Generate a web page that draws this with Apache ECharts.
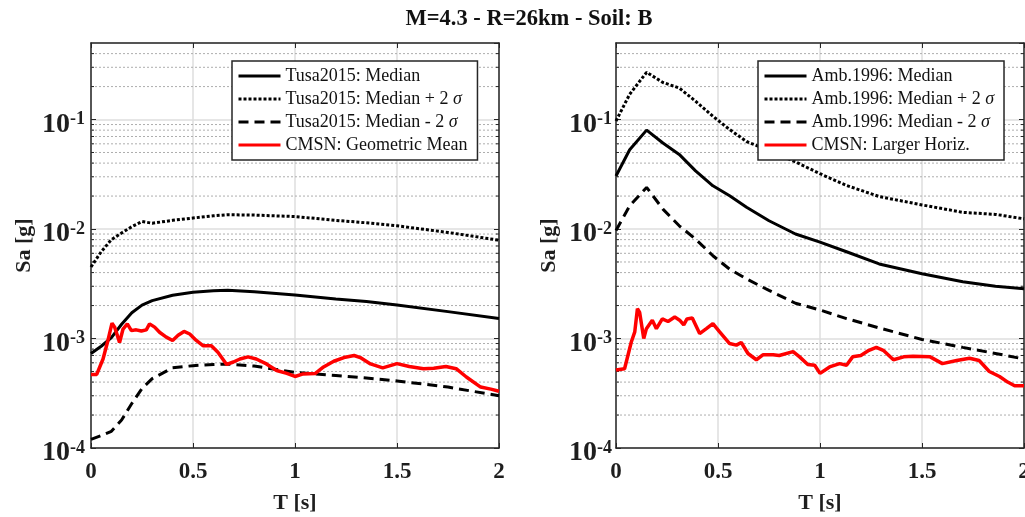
<!DOCTYPE html>
<html>
<head>
<meta charset="utf-8">
<script src="https://cdn.jsdelivr.net/npm/echarts@6/dist/echarts.min.js"></script>
<style>
  html, body { margin: 0; padding: 0; background: #fff; }
  #chart { width: 1025px; height: 517px; }
</style>
</head>
<body>
<div id="chart"></div>
<script>
// ---- Response spectra: M=4.3, R=26 km, soil B ----

// Periods for the model curves (s)
const periodsTusa = [0, 0.05, 0.1, 0.15, 0.2, 0.25, 0.3, 0.4, 0.5, 0.6, 0.67, 0.8, 1.0, 1.2, 1.35, 1.5, 1.75, 2.0];
const tusaMedian  = [7.3e-4, 8.5e-4, 1.02e-3, 1.35e-3, 1.72e-3, 2.02e-3, 2.22e-3, 2.48e-3, 2.64e-3, 2.73e-3, 2.76e-3, 2.68e-3, 2.5e-3, 2.3e-3, 2.18e-3, 2.02e-3, 1.76e-3, 1.52e-3];
const tusaPlus2s  = [4.5e-3, 6.2e-3, 8.0e-3, 9.2e-3, 1.05e-2, 1.17e-2, 1.13e-2, 1.2e-2, 1.26e-2, 1.32e-2, 1.35e-2, 1.34e-2, 1.3e-2, 1.2e-2, 1.14e-2, 1.07e-2, 9.3e-3, 7.9e-3];
const tusaMinus2s = [1.2e-4, 1.3e-4, 1.42e-4, 1.8e-4, 2.55e-4, 3.5e-4, 4.3e-4, 5.4e-4, 5.65e-4, 5.8e-4, 5.85e-4, 5.6e-4, 4.9e-4, 4.6e-4, 4.35e-4, 4.1e-4, 3.6e-4, 3.0e-4];

const periodsAmb = [0, 0.067, 0.15, 0.23, 0.31, 0.39, 0.475, 0.557, 0.64, 0.75, 0.88, 1.0, 1.13, 1.29, 1.5, 1.7, 1.86, 2.0];
const ambMedian  = [0.0305, 0.053, 0.080, 0.061, 0.048, 0.034, 0.0248, 0.0201, 0.0158, 0.0119, 0.0090, 0.0076, 0.0062, 0.0048, 0.0039, 0.0033, 0.0030, 0.00285];
const ambPlus2s  = [0.097, 0.17, 0.27, 0.218, 0.194, 0.147, 0.107, 0.081, 0.063, 0.052, 0.041, 0.032, 0.025, 0.0198, 0.0166, 0.0142, 0.0136, 0.0124];
const ambMinus2s = [0.0097, 0.0163, 0.024, 0.0152, 0.0107, 0.0081, 0.0057, 0.0043, 0.0035, 0.00275, 0.0021, 0.00182, 0.00152, 0.00125, 0.00098, 0.00083, 0.00073, 0.00065];

// Recorded spectrum, geometric mean of horizontals
const periodsGeo = [0, 0.028, 0.059, 0.083, 0.103, 0.116, 0.14, 0.157, 0.178, 0.198, 0.222, 0.247, 0.271, 0.287, 0.312, 0.336, 0.369, 0.40, 0.427, 0.456, 0.484, 0.516, 0.549, 0.59, 0.622, 0.665, 0.698, 0.73, 0.77, 0.81, 0.86, 0.91, 0.96, 1.0, 1.04, 1.1, 1.14, 1.19, 1.24, 1.29, 1.32, 1.37, 1.43, 1.5, 1.56, 1.63, 1.68, 1.74, 1.79, 1.84, 1.91, 1.96, 2.0];
const cmsnGeoMean = [4.7e-4, 4.7e-4, 6.5e-4, 9.6e-4, 1.38e-3, 1.27e-3, 9.2e-4, 1.22e-3, 1.36e-3, 1.18e-3, 1.2e-3, 1.17e-3, 1.2e-3, 1.36e-3, 1.27e-3, 1.14e-3, 1.03e-3, 9.6e-4, 1.07e-3, 1.16e-3, 1.1e-3, 9.6e-4, 8.6e-4, 8.6e-4, 7.5e-4, 5.8e-4, 6.1e-4, 6.5e-4, 6.8e-4, 6.5e-4, 5.86e-4, 5.1e-4, 4.8e-4, 4.5e-4, 4.75e-4, 4.8e-4, 5.5e-4, 6.2e-4, 6.7e-4, 7.0e-4, 6.7e-4, 5.86e-4, 5.4e-4, 5.9e-4, 5.55e-4, 5.3e-4, 5.35e-4, 5.55e-4, 5.3e-4, 4.45e-4, 3.6e-4, 3.45e-4, 3.3e-4];

// Recorded spectrum, larger horizontal component
const periodsHor = [0, 0.042, 0.075, 0.092, 0.105, 0.116, 0.136, 0.149, 0.178, 0.198, 0.227, 0.255, 0.288, 0.312, 0.332, 0.348, 0.374, 0.41, 0.443, 0.475, 0.508, 0.557, 0.59, 0.614, 0.647, 0.688, 0.72, 0.77, 0.80, 0.868, 0.9, 0.94, 0.974, 1.0, 1.047, 1.096, 1.13, 1.16, 1.2, 1.24, 1.276, 1.31, 1.36, 1.41, 1.456, 1.54, 1.60, 1.67, 1.733, 1.78, 1.83, 1.88, 1.92, 1.954, 2.0];
const cmsnLargerHor = [5.15e-4, 5.3e-4, 9.3e-4, 1.15e-3, 1.87e-3, 1.73e-3, 1.0e-3, 1.23e-3, 1.47e-3, 1.23e-3, 1.51e-3, 1.43e-3, 1.57e-3, 1.47e-3, 1.33e-3, 1.51e-3, 1.54e-3, 1.11e-3, 1.23e-3, 1.37e-3, 1.15e-3, 9.0e-4, 8.7e-4, 9.2e-4, 7.3e-4, 6.4e-4, 7.1e-4, 7.1e-4, 7.0e-4, 7.6e-4, 6.8e-4, 5.8e-4, 5.7e-4, 4.8e-4, 5.5e-4, 5.9e-4, 5.7e-4, 6.8e-4, 7.0e-4, 7.8e-4, 8.3e-4, 7.8e-4, 6.4e-4, 6.8e-4, 6.9e-4, 6.8e-4, 5.9e-4, 6.3e-4, 6.6e-4, 6.3e-4, 5.0e-4, 4.5e-4, 4.0e-4, 3.7e-4, 3.7e-4];

// Axis settings
const periodRange = [0, 2];
const periodStep = 0.5;
const saRange = [1e-4, 0.5];
// Minor log gridlines (2..9 per decade)
const minorSa = [2e-4,3e-4,4e-4,5e-4,6e-4,7e-4,8e-4,9e-4, 2e-3,3e-3,4e-3,5e-3,6e-3,7e-3,8e-3,9e-3, 2e-2,3e-2,4e-2,5e-2,6e-2,7e-2,8e-2,9e-2, 0.2,0.3,0.4];

const titleText = 'M=4.3 - R=26km - Soil: B';
const xName = 'T [s]';
const yName = 'Sa [g]';
const namesLeft  = ['Tusa2015: Median', 'Tusa2015: Median + 2 σ', 'Tusa2015: Median - 2 σ', 'CMSN: Geometric Mean'];
const namesRight = ['Amb.1996: Median', 'Amb.1996: Median + 2 σ', 'Amb.1996: Median - 2 σ', 'CMSN: Larger Horiz.'];

const FONT = '"Liberation Serif", "Times New Roman", serif';
const AXIS_COLOR = '#262626';
const TEXT_COLOR = '#1e1e1e';

const zip = (xs, ys) => xs.map((x, i) => [x, ys[i]]);

const chart = echarts.init(document.getElementById('chart'), null, { renderer: 'canvas' });

// Fixed plot rectangles; labels may run to the canvas edge
const grids = [
  { left: 91, top: 43, width: 408, height: 405, outerBoundsMode: 'none', containLabel: false },
  { left: 616, top: 43, width: 408, height: 405, outerBoundsMode: 'none', containLabel: false }
];

function xAxes(gi) {
  const base = {
    type: 'value', gridIndex: gi, min: periodRange[0], max: periodRange[1], interval: periodStep,
    axisLine: { show: true, onZero: false, lineStyle: { color: AXIS_COLOR, width: 1.5 } },
    axisTick: { show: true, inside: true, length: 5, lineStyle: { color: AXIS_COLOR, width: 1 } }
  };
  return [
    Object.assign({}, base, {
      position: 'bottom',
      name: xName, nameLocation: 'middle', nameGap: 44,
      nameTextStyle: { fontFamily: FONT, fontSize: 22, fontWeight: 'bold', color: TEXT_COLOR },
      axisLabel: { fontFamily: FONT, fontSize: 23, fontWeight: 'bold', color: TEXT_COLOR, margin: 13, hideOverlap: false },
      splitLine: { show: true, lineStyle: { color: '#dedede', width: 1.5 } }
    }),
    Object.assign({}, base, {
      position: 'top',
      axisLabel: { show: false },
      splitLine: { show: false }
    })
  ];
}

// Decade labels as 10 with a raised exponent
function yLabel(v) {
  const lg = Math.log10(v);
  const e = Math.round(lg);
  if (Math.abs(lg - e) > 1e-6) return '';
  return '{b|10}{s|' + e + '}';
}

function yAxes(gi) {
  const base = {
    type: 'log', logBase: 10, gridIndex: gi, min: saRange[0], max: saRange[1],
    axisLine: { show: true, onZero: false, lineStyle: { color: AXIS_COLOR, width: 1.5 } },
    axisTick: { show: true, inside: true, length: 5, lineStyle: { color: AXIS_COLOR, width: 1 } }
  };
  return [
    Object.assign({}, base, {
      position: 'left',
      name: yName, nameLocation: 'middle', nameGap: 56, nameRotate: 90,
      nameTextStyle: { fontFamily: FONT, fontSize: 22, fontWeight: 'bold', color: TEXT_COLOR },
      axisLabel: {
        showMaxLabel: false, margin: gi === 0 ? 6 : 4, formatter: yLabel,
        padding: [10, 0, 0, 0],
        rich: {
          b: { fontFamily: FONT, fontSize: 28, lineHeight: 28, fontWeight: 'bold', color: TEXT_COLOR },
          s: { fontFamily: FONT, fontSize: 18, lineHeight: 18, fontWeight: 'bold', color: TEXT_COLOR, padding: [0, 0, 10, 0] }
        }
      },
      splitLine: { show: true, lineStyle: { color: '#dedede', width: 1.5 } }
    }),
    Object.assign({}, base, {
      position: 'right',
      axisLabel: { show: false },
      splitLine: { show: false }
    })
  ];
}

// Minor gridlines plus small ticks at both vertical edges of a panel
function minorGridSeries(gi) {
  return {
    type: 'custom', xAxisIndex: gi * 2, yAxisIndex: gi * 2, z: 1, silent: true,
    data: minorSa.map(v => [periodRange[0], v]),
    renderItem: function (params, api) {
      const v = api.value(1);
      const a = api.coord([periodRange[0], v]);
      const b = api.coord([periodRange[1], v]);
      const tick = 3;
      return {
        type: 'group',
        children: [
          { type: 'line', shape: { x1: a[0], y1: a[1], x2: b[0], y2: b[1] },
            style: { stroke: '#aeaeae', lineWidth: 1, lineDash: [2, 2] } },
          { type: 'line', shape: { x1: a[0], y1: a[1], x2: a[0] + tick, y2: a[1] },
            style: { stroke: AXIS_COLOR, lineWidth: 1 } },
          { type: 'line', shape: { x1: b[0] - tick, y1: b[1], x2: b[0], y2: b[1] },
            style: { stroke: AXIS_COLOR, lineWidth: 1 } }
        ]
      };
    }
  };
}

function curve(name, data, gi, color, width, type) {
  return {
    name: name, type: 'line', xAxisIndex: gi * 2, yAxisIndex: gi * 2,
    data: data, symbol: 'none', showSymbol: false, smooth: false, z: 3,
    lineStyle: { color: color, width: width, type: type },
    itemStyle: { color: color },
    emphasis: { disabled: true }, silent: true
  };
}

function legendFor(names, left) {
  return {
    data: names, orient: 'vertical', left: left, top: 61,
    backgroundColor: '#fff', borderColor: '#262626', borderWidth: 1.5,
    padding: [5, 10, 5, 5], itemGap: 3, itemWidth: 42, itemHeight: 14,
    selectedMode: false,
    lineStyle: { width: 3 },
    itemStyle: { opacity: 0 },
    formatter: n => n.replace('σ', '{i|σ}'),
    textStyle: {
      fontFamily: FONT, fontSize: 18, color: '#111', lineHeight: 20,
      rich: { i: { fontFamily: FONT, fontSize: 18, fontStyle: 'italic', color: '#111', lineHeight: 20 } }
    }
  };
}

const option = {
  animation: false,
  backgroundColor: '#fff',
  title: {
    text: titleText, left: 524, top: 3, textAlign: 'center',
    textStyle: { fontFamily: FONT, fontSize: 22.5, fontWeight: 'bold', color: '#111' }
  },
  grid: grids,
  xAxis: xAxes(0).concat(xAxes(1)),
  yAxis: yAxes(0).concat(yAxes(1)),
  legend: [legendFor(namesLeft, 232), legendFor(namesRight, 758)],
  series: [
    minorGridSeries(0),
    minorGridSeries(1),
    curve(namesLeft[0], zip(periodsTusa, tusaMedian), 0, '#000', 3, 'solid'),
    curve(namesLeft[1], zip(periodsTusa, tusaPlus2s), 0, '#000', 3, [3, 2]),
    curve(namesLeft[2], zip(periodsTusa, tusaMinus2s), 0, '#000', 3, [10, 6]),
    curve(namesLeft[3], zip(periodsGeo, cmsnGeoMean), 0, '#ff0000', 3.5, 'solid'),
    curve(namesRight[0], zip(periodsAmb, ambMedian), 1, '#000', 3, 'solid'),
    curve(namesRight[1], zip(periodsAmb, ambPlus2s), 1, '#000', 3, [3, 2]),
    curve(namesRight[2], zip(periodsAmb, ambMinus2s), 1, '#000', 3, [10, 6]),
    curve(namesRight[3], zip(periodsHor, cmsnLargerHor), 1, '#ff0000', 3.5, 'solid')
  ]
};

chart.setOption(option);
</script>
</body>
</html>
